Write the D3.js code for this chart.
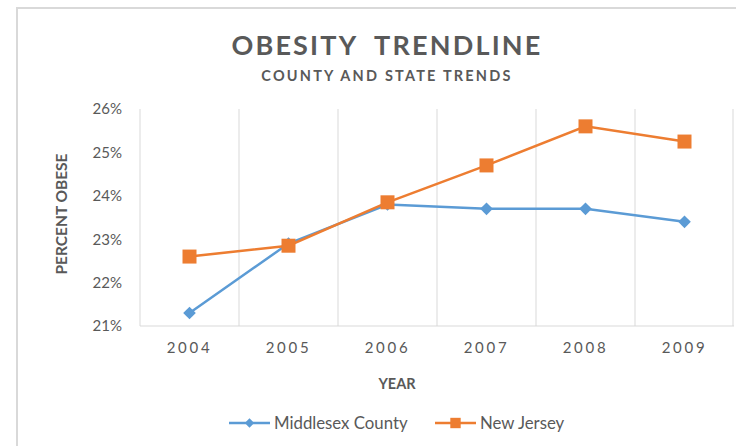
<!DOCTYPE html>
<html>
<head>
<meta charset="utf-8">
<script src="https://cdn.jsdelivr.net/npm/d3@7"></script>
<style>
  body { margin: 0; background: #fff; }
  text { font-family: Lato, "Open Sans", sans-serif; fill: #595959; }
</style>
</head>
<body>
<script>
// Chart data
const years = ["2004", "2005", "2006", "2007", "2008", "2009"];
const middlesex = [21.3, 22.9, 23.8, 23.7, 23.7, 23.4];
const newJersey = [22.6, 22.85, 23.85, 24.7, 25.6, 25.25];
const yTicks = [21, 22, 23, 24, 25, 26];

const W = 736, H = 446;
const margin = { top: 109, left: 140, right: 2, bottom: 120 };
const width = W - margin.left - margin.right;
const height = H - margin.top - margin.bottom;

const svg = d3.select("body").append("svg")
  .attr("width", W)
  .attr("height", H);

// outer chart frame
svg.append("rect")
  .attr("x", 17).attr("y", 8)
  .attr("width", W).attr("height", H)
  .attr("fill", "none")
  .attr("stroke", "#d9d9d9")
  .attr("stroke-width", 2);

// titles
svg.append("text")
  .attr("x", 387).attr("y", 55)
  .attr("text-anchor", "middle")
  .attr("font-size", 27).attr("font-weight", "bold")
  .attr("letter-spacing", 2.2)
  .attr("xml:space", "preserve")
  .text("OBESITY  TRENDLINE");
svg.append("text")
  .attr("x", 387).attr("y", 81)
  .attr("text-anchor", "middle")
  .attr("font-size", 14.5).attr("font-weight", "bold")
  .attr("letter-spacing", 2.2)
  .text("COUNTY AND STATE TRENDS");

const g = svg.append("g").attr("transform", `translate(${margin.left},${margin.top})`);

// Scales
const xscale = d3.scaleBand().domain(years).range([0, width]);
const yscale = d3.scaleLinear().domain([21, 26]).range([height, 0]);

// vertical gridlines between categories
g.selectAll(".vgrid")
  .data(years)
  .join("line")
  .attr("class", "vgrid")
  .attr("x1", d => xscale(d)).attr("x2", d => xscale(d))
  .attr("y1", 0).attr("y2", height)
  .attr("stroke", "#d9d9d9").attr("stroke-width", 1);

// plot area right and bottom border
g.append("line")
  .attr("x1", width - 1).attr("x2", width - 1)
  .attr("y1", 0).attr("y2", height)
  .attr("stroke", "#d9d9d9");
g.append("line")
  .attr("x1", 0).attr("x2", width)
  .attr("y1", height).attr("y2", height)
  .attr("stroke", "#d9d9d9");

// Axes
const yaxis = d3.axisLeft(yscale).tickValues(yTicks).tickFormat(d => d + "%").tickSize(0).tickPadding(18);
const g_yaxis = g.append("g").call(yaxis);
g_yaxis.select(".domain").remove();
g_yaxis.selectAll("text").attr("font-size", 15).attr("fill", "#595959").attr("font-family", "Lato, sans-serif");

const xaxis = d3.axisBottom(xscale).tickSize(0).tickPadding(16);
const g_xaxis = g.append("g").attr("transform", `translate(0,${height})`).call(xaxis);
g_xaxis.select(".domain").remove();
g_xaxis.selectAll("text").attr("font-size", 15).attr("letter-spacing", 2.7)
  .attr("fill", "#595959").attr("font-family", "Lato, sans-serif");

// axis titles
svg.append("text")
  .attr("x", 397).attr("y", 389)
  .attr("text-anchor", "middle")
  .attr("font-size", 14.5).attr("font-weight", "bold")
  .text("YEAR");
svg.append("text")
  .attr("transform", `translate(67,214) rotate(-90)`)
  .attr("text-anchor", "middle")
  .attr("font-size", 15.5).attr("font-weight", "bold")
  .text("PERCENT OBESE");

// Series
const series = [
  { name: "Middlesex County", values: middlesex, color: "#5B9BD5", shape: d3.symbolSquare, size: 80, rot: 45 },
  { name: "New Jersey", values: newJersey, color: "#ED7D31", shape: d3.symbolSquare, size: 196, rot: 0 }
];

const line = d3.line()
  .x((d, i) => xscale(years[i]) + xscale.bandwidth() / 2)
  .y(d => yscale(d));

series.forEach(s => {
  g.append("path")
    .datum(s.values)
    .attr("d", line)
    .attr("fill", "none")
    .attr("stroke", s.color)
    .attr("stroke-width", 2.5);
  g.selectAll(null)
    .data(s.values)
    .join("path")
    .attr("transform", (d, i) => `translate(${xscale(years[i]) + xscale.bandwidth() / 2},${yscale(d)}) rotate(${s.rot})`)
    .attr("d", d3.symbol().type(s.shape).size(s.size))
    .attr("fill", s.color);
});

// Legend
const legendX = [229, 435];
const legend = svg.selectAll(".legend")
  .data(series)
  .join("g")
  .attr("class", "legend")
  .attr("transform", (d, i) => `translate(${legendX[i]},423)`);
legend.append("line")
  .attr("x1", 0).attr("x2", 41)
  .attr("stroke", d => d.color).attr("stroke-width", 2.5);
legend.append("path")
  .attr("transform", d => `translate(20.5,0) rotate(${d.rot})`)
  .attr("d", d => d3.symbol().type(d.shape).size(d.size * 0.55)())
  .attr("fill", d => d.color);
legend.append("text")
  .attr("x", 45).attr("y", 6)
  .attr("font-size", 16.8)
  .text(d => d.name);
</script>
</body>
</html>
